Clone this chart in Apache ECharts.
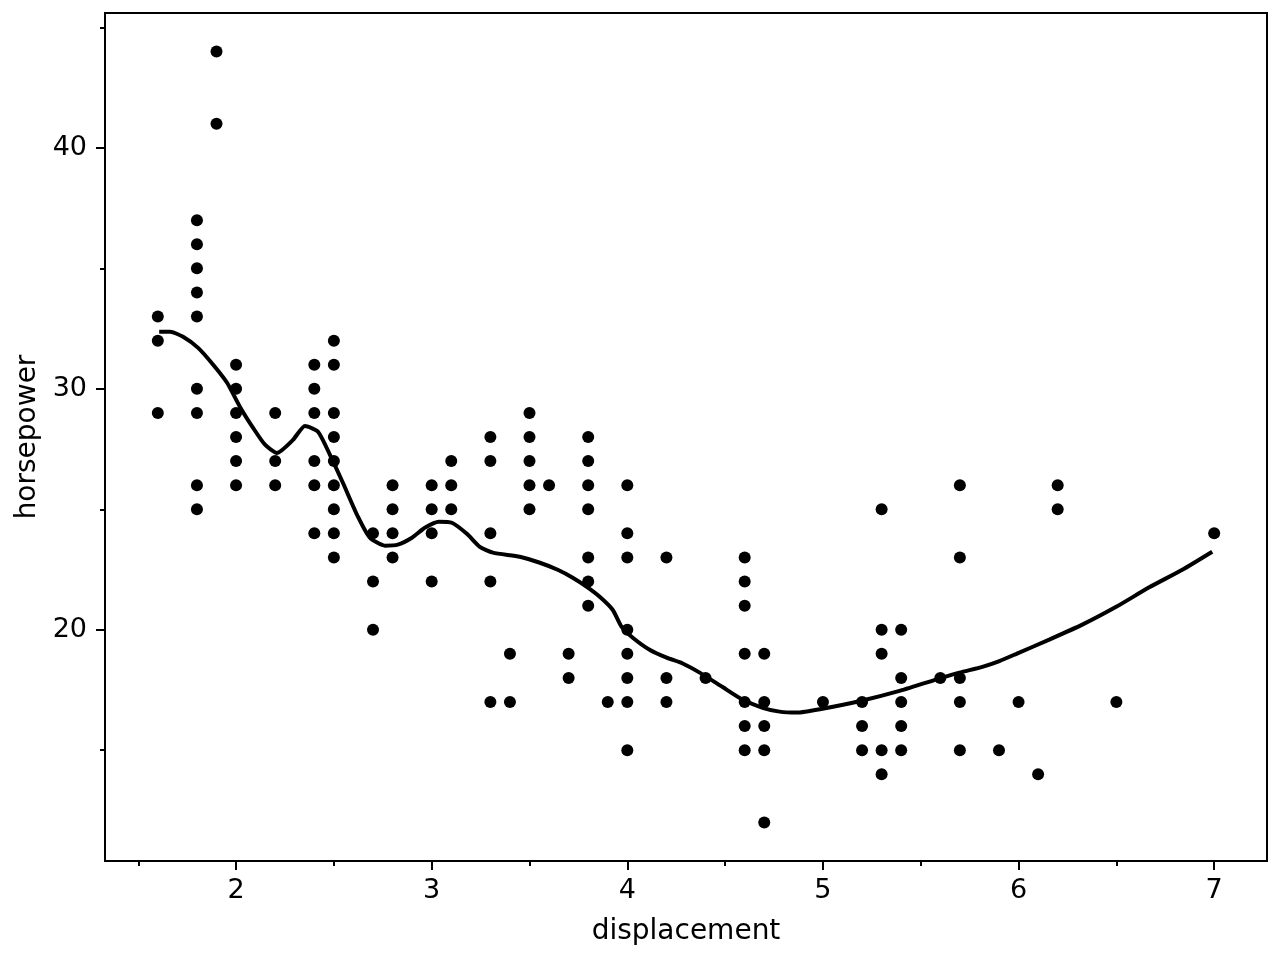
<!DOCTYPE html>
<html><head><meta charset="utf-8">
<script src="https://cdn.jsdelivr.net/npm/echarts@6/dist/echarts.min.js"></script>
<style>html,body{margin:0;padding:0;background:#fff}#c{width:1280px;height:960px}</style>
</head><body><div id="c"></div>
<script>
// scatter points (displacement, horsepower)
const displacement = [
  1.6,1.6,1.6,
  1.8,1.8,1.8,1.8,1.8,1.8,1.8,1.8,1.8,
  1.9,1.9,
  2.0,2.0,2.0,2.0,2.0,2.0,
  2.2,2.2,2.2,
  2.4,2.4,2.4,2.4,2.4,2.4,
  2.5,2.5,2.5,2.5,2.5,2.5,2.5,2.5,2.5,
  2.7,2.7,2.7,
  2.8,2.8,2.8,2.8,
  3.0,3.0,3.0,3.0,
  3.1,3.1,3.1,
  3.3,3.3,3.3,3.3,3.3,
  3.4,3.4,
  3.5,3.5,3.5,3.5,3.5,
  3.6,
  3.7,3.7,
  3.8,3.8,3.8,3.8,3.8,3.8,3.8,
  3.9,
  4.0,4.0,4.0,4.0,4.0,4.0,4.0,4.0,
  4.2,4.2,4.2,
  4.4,
  4.6,4.6,4.6,4.6,4.6,4.6,4.6,
  4.7,4.7,4.7,4.7,4.7,
  5.0,
  5.2,5.2,5.2,
  5.3,5.3,5.3,5.3,5.3,
  5.4,5.4,5.4,5.4,5.4,
  5.6,
  5.7,5.7,5.7,5.7,5.7,
  5.9,
  6.0,
  6.1,
  6.2,6.2,
  6.5,
  7.0
];
const horsepower = [
  33,32,29,
  37,36,35,34,33,30,29,26,25,
  44,41,
  31,30,29,28,27,26,
  29,27,26,
  31,30,29,27,26,24,
  32,31,29,28,27,26,25,24,23,
  24,22,20,
  26,25,24,23,
  26,25,24,22,
  27,26,25,
  28,27,24,22,17,
  19,17,
  29,28,27,26,25,
  26,
  19,18,
  28,27,26,25,23,22,21,
  17,
  26,24,23,20,19,18,17,15,
  23,18,17,
  18,
  23,22,21,19,17,16,15,
  19,17,16,15,12,
  17,
  17,16,15,
  25,20,19,15,14,
  20,18,17,16,15,
  18,
  26,23,18,17,15,
  15,
  17,
  14,
  26,25,
  17,
  24
];
// smoothed trend line
const smoothX = [1.607,1.663,1.729,1.806,1.883,1.954,2.020,2.087,2.148,2.209,2.291,2.352,2.419,2.480,2.546,2.623,2.684,2.761,2.827,2.899,2.965,3.037,3.103,3.180,3.246,3.313,3.450,3.553,3.644,3.721,3.793,3.859,3.925,3.971,4.028,4.114,4.201,4.283,4.370,4.487,4.589,4.692,4.778,4.865,4.998,5.197,5.396,5.595,5.698,5.815,5.902,5.989,6.157,6.326,6.499,6.668,6.837,6.990];
const smoothY = [32.37,32.37,32.16,31.70,31.00,30.25,29.25,28.38,27.68,27.34,27.88,28.46,28.22,27.26,26.10,24.69,23.82,23.49,23.53,23.82,24.23,24.48,24.44,23.98,23.44,23.20,23.03,22.78,22.49,22.16,21.78,21.37,20.83,20.12,19.67,19.17,18.84,18.60,18.22,17.62,17.10,16.76,16.60,16.56,16.72,17.05,17.47,17.97,18.22,18.46,18.70,19.00,19.59,20.21,20.95,21.76,22.49,23.24];

const xMajorTicks = [2,3,4,5,6,7];
const xMinorTicks = [1.5,2.5,3.5,4.5,5.5,6.5];
const yMajorTicks = [20,30,40];
const yMinorTicks = [15,25,35,45];
const xLabel = 'displacement';
const yLabel = 'horsepower';

const FONT = 'DejaVu Sans';
const xMin = 1.33, xMax = 7.27, yMin = 10.4, yMax = 45.6;

const chart = echarts.init(document.getElementById('c'));
const tickStyle = {color:'#000', width:2};
chart.setOption({
  animation:false,
  backgroundColor:'#fff',
  grid:{left:105, top:13, right:13, bottom:99, show:true, borderColor:'#000', borderWidth:2, backgroundColor:'transparent'},
  xAxis:[
    {type:'value', min:xMin, max:xMax, position:'bottom',
     name:xLabel, nameLocation:'middle', nameGap:57,
     nameTextStyle:{fontFamily:FONT, fontSize:28, color:'#000'},
     axisLine:{show:true, onZero:false, lineStyle:tickStyle},
     axisTick:{show:true, length:9, lineStyle:tickStyle, customValues:xMajorTicks},
     axisLabel:{show:true, customValues:xMajorTicks, margin:16, fontFamily:FONT, fontSize:27, color:'#000'},
     splitLine:{show:false}},
    {type:'value', min:xMin, max:xMax, position:'bottom', offset:0,
     axisLine:{show:false},
     axisTick:{show:true, length:5, lineStyle:tickStyle, customValues:xMinorTicks},
     axisLabel:{show:false}, splitLine:{show:false}}
  ],
  yAxis:[
    {type:'value', min:yMin, max:yMax, position:'left',
     name:yLabel, nameLocation:'middle', nameGap:62,
     nameTextStyle:{fontFamily:FONT, fontSize:28, color:'#000'},
     axisLine:{show:true, onZero:false, lineStyle:tickStyle},
     axisTick:{show:true, length:9, lineStyle:tickStyle, customValues:yMajorTicks},
     axisLabel:{show:true, customValues:yMajorTicks, margin:18, fontFamily:FONT, fontSize:27, color:'#000'},
     splitLine:{show:false}},
    {type:'value', min:yMin, max:yMax, position:'left', offset:0,
     axisLine:{show:false},
     axisTick:{show:true, length:5, lineStyle:tickStyle, customValues:yMinorTicks},
     axisLabel:{show:false}, splitLine:{show:false}}
  ],
  series:[
    {type:'scatter', xAxisIndex:0, yAxisIndex:0, symbol:'circle', symbolSize:12,
     itemStyle:{color:'#000', opacity:1},
     data:displacement.map((d,i)=>[d, horsepower[i]])},
    {type:'line', xAxisIndex:0, yAxisIndex:0, showSymbol:false, smooth:0.2,
     lineStyle:{color:'#000', width:4}, z:3,
     data:smoothX.map((d,i)=>[d, smoothY[i]])}
  ]
});
</script></body></html>
